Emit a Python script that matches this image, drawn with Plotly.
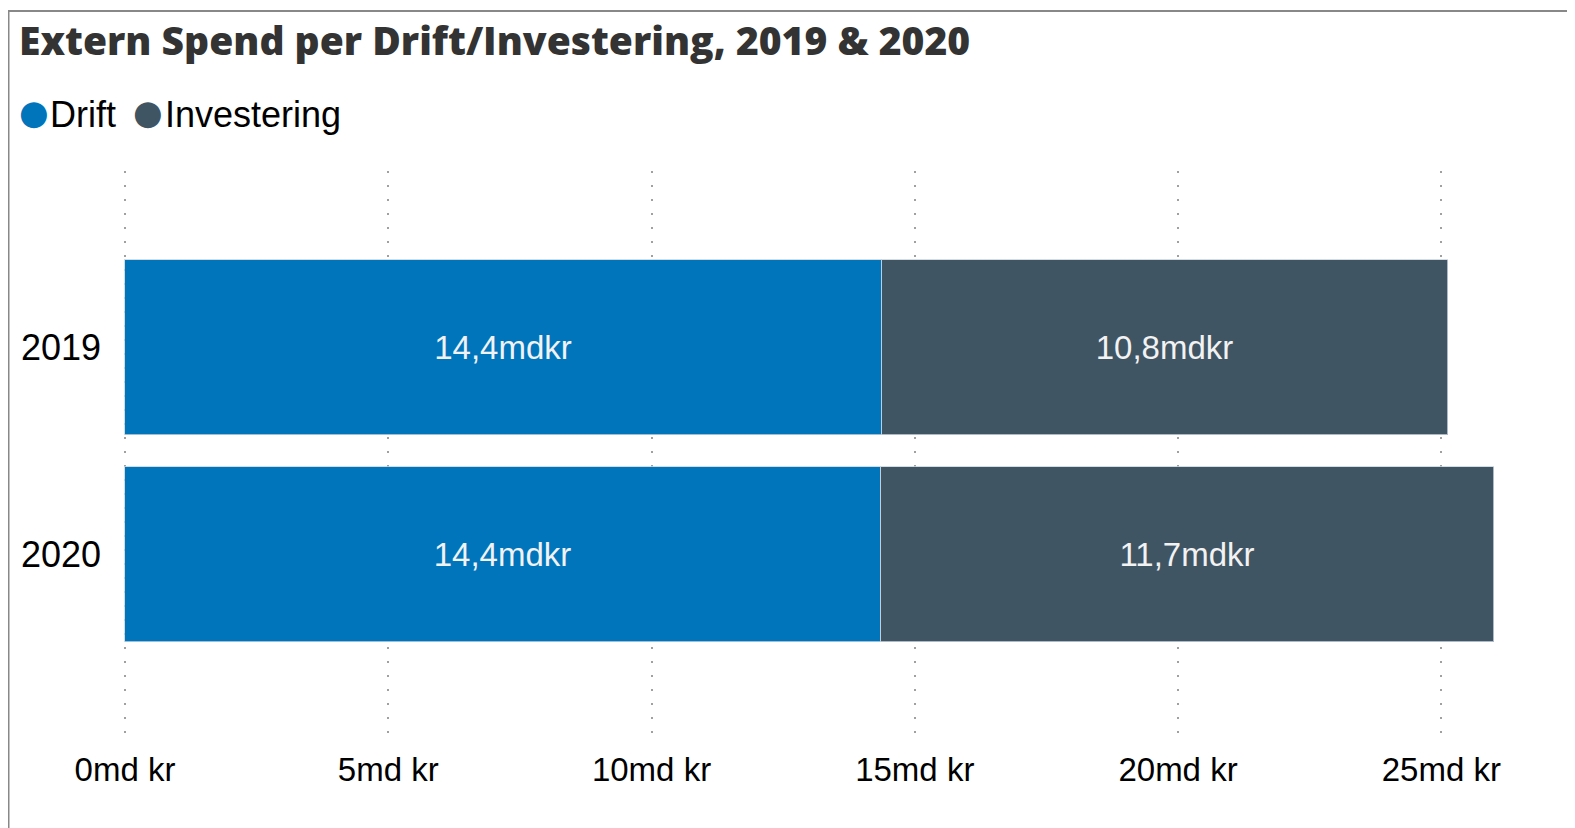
import plotly.graph_objects as go

years = ["2019", "2020"]
drift = [14.37, 14.35]
investering = [10.75, 11.65]
drift_labels = ["14,4mdkr", "14,4mdkr"]
inv_labels = ["10,8mdkr", "11,7mdkr"]
series_names = ["Drift", "Investering"]
tick_vals = [0, 5, 10, 15, 20, 25]
tick_text = ["0md kr", "5md kr", "10md kr", "15md kr", "20md kr", "25md kr"]

C_DRIFT = "#0075BC"
C_INV = "#405563"
FONT = "Liberation Sans, Arial, sans-serif"
OFF = 8  # page body margin

fig = go.Figure()
fig.add_trace(go.Bar(
    y=years, x=drift, orientation="h", name=series_names[0], showlegend=False,
    marker=dict(color=C_DRIFT, line=dict(color="rgba(200,210,220,0.8)", width=1)),
    text=drift_labels, textposition="inside", insidetextanchor="middle",
    textfont=dict(color="#F2F2F2", size=33, family=FONT), width=0.845,
))
fig.add_trace(go.Bar(
    y=years, x=investering, orientation="h", name=series_names[1], showlegend=False,
    marker=dict(color=C_INV, line=dict(color="rgba(200,210,220,0.8)", width=1)),
    text=inv_labels, textposition="inside", insidetextanchor="middle",
    textfont=dict(color="#F2F2F2", size=33, family=FONT), width=0.845,
))

PL, PT, PW, PH = 123 - OFF, 171 - OFF, 1392, 572

def px(x):
    return (x - OFF - PL) / PW

def py(y):
    return 1 - (y - OFF - PT) / PH

fig.update_layout(
    width=1575, height=828,
    barmode="stack",
    plot_bgcolor="white", paper_bgcolor="white",
    margin=dict(l=PL, r=1575 - PL - PW, t=PT, b=828 - PT - PH, autoexpand=False),
    font=dict(family=FONT, color="black"),
    title=dict(text="Extern Spend per Drift/Investering, 2019 &amp; 2020",
               x=(19 - OFF) / 1575, xanchor="left", xref="container",
               y=1 - (41 - OFF) / 828, yanchor="middle", yref="container",
               font=dict(family="Open Sans, sans-serif", weight=800, size=39, color="#333333")),
    showlegend=False,
    bargap=0,
)
fig.update_xaxes(
    range=[-0.038, 26.4], tickvals=tick_vals, ticktext=tick_text,
    showgrid=True, gridcolor="#A0A0A0", gridwidth=1.5, griddash="1.5px,12.5px",
    zeroline=False, showline=False, ticks="",
    tickfont=dict(size=33, family=FONT, color="black"), ticklabelstandoff=4,
)
fig.update_yaxes(
    categoryorder="array", categoryarray=years,
    range=[1.911, -0.853], showgrid=False, zeroline=False, showline=False, ticks="",
    tickfont=dict(size=36, family=FONT, color="black"), ticklabelstandoff=21,
)

# custom legend (circle markers + series names)
legend_x = [[17, 48], [131, 163]]
for (cx, tx), nm, c in zip(legend_x, series_names, [C_DRIFT, C_INV]):
    fig.add_annotation(text="●", x=px(cx), y=py(112), xref="paper", yref="paper",
                       xanchor="left", yanchor="middle", showarrow=False,
                       font=dict(size=34, color=c, family="DejaVu Sans, sans-serif"))
    fig.add_annotation(text=nm, x=px(tx), y=py(114), xref="paper", yref="paper",
                       xanchor="left", yanchor="middle", showarrow=False,
                       font=dict(size=36, color="black", family=FONT))

fig.add_shape(type="rect", xref="paper", yref="paper",
              x0=px(8.5), x1=px(1620), y0=py(900), y1=py(11),
              line=dict(color="#888888", width=2), fillcolor="rgba(0,0,0,0)", layer="below")

fig.write_html("out.html")
